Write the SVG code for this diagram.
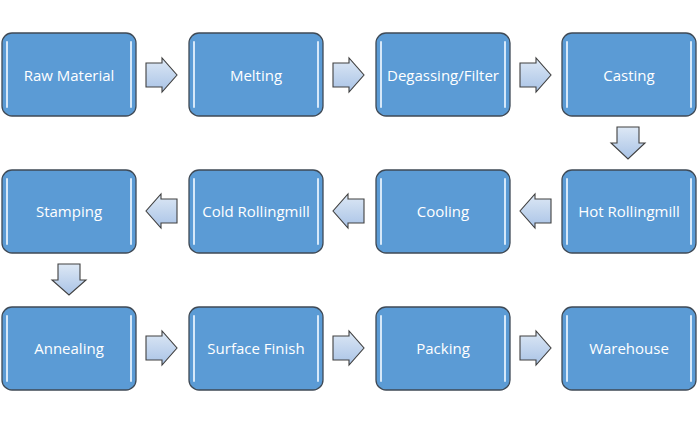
<svg xmlns="http://www.w3.org/2000/svg" width="698" height="424" viewBox="0 0 698 424">
<style>
.box{fill:#5b9bd5;stroke:#3f4a56;stroke-width:1.3}
.hl{stroke:#d6e8f9;stroke-width:2;stroke-linecap:round}
.lbl{fill:#ffffff;font-family:"Open Sans","Noto Sans",sans-serif;font-size:15px;text-anchor:middle;dominant-baseline:central}
.arr{fill:url(#ag);stroke:#404040;stroke-width:1.1;stroke-linejoin:miter}
</style>
<defs>
<linearGradient id="ag" x1="0" y1="0" x2="0" y2="1">
<stop offset="0" stop-color="#dde8f5"/>
<stop offset="1" stop-color="#a9c3e6"/>
</linearGradient>
</defs>
<rect width="698" height="424" fill="#ffffff"/>
<g id="connectors">
<path class="arr" d="M146,63 H162 V58 L177,75 L162,92 V87 H146 Z"/>
<path class="arr" d="M333,63 H349 V58 L364,75 L349,92 V87 H333 Z"/>
<path class="arr" d="M520,63 H536 V58 L551,75 L536,92 V87 H520 Z"/>
<path class="arr" d="M617,127 H639 V143 H645 L628,159 L611,143 H617 Z"/>
<path class="arr" d="M551,199 H535 V194 L520,211 L535,228 V223 H551 Z"/>
<path class="arr" d="M364,199 H348 V194 L333,211 L348,228 V223 H364 Z"/>
<path class="arr" d="M177,199 H161 V194 L146,211 L161,228 V223 H177 Z"/>
<path class="arr" d="M58,264 H80 V280 H86 L69,295 L52,280 H58 Z"/>
<path class="arr" d="M146,336 H162 V331 L177,348 L162,365 V360 H146 Z"/>
<path class="arr" d="M333,336 H349 V331 L364,348 L349,365 V360 H333 Z"/>
<path class="arr" d="M520,336 H536 V331 L551,348 L536,365 V360 H520 Z"/>
</g>
<g id="n1"><rect class="box" x="2" y="33" width="134" height="83" rx="10"/><line class="hl" x1="7" y1="42" x2="7" y2="107"/><line class="hl" x1="131" y1="42" x2="131" y2="107"/><text class="lbl" x="69" y="74.5">Raw Material</text></g>
<g id="n2"><rect class="box" x="189" y="33" width="134" height="83" rx="10"/><line class="hl" x1="194" y1="42" x2="194" y2="107"/><line class="hl" x1="318" y1="42" x2="318" y2="107"/><text class="lbl" x="256" y="74.5">Melting</text></g>
<g id="n3"><rect class="box" x="376" y="33" width="134" height="83" rx="10"/><line class="hl" x1="381" y1="42" x2="381" y2="107"/><line class="hl" x1="505" y1="42" x2="505" y2="107"/><text class="lbl" x="443" y="74.5">Degassing/Filter</text></g>
<g id="n4"><rect class="box" x="562" y="33" width="134" height="83" rx="10"/><line class="hl" x1="567" y1="42" x2="567" y2="107"/><line class="hl" x1="691" y1="42" x2="691" y2="107"/><text class="lbl" x="629" y="74.5">Casting</text></g>
<g id="n5"><rect class="box" x="562" y="170" width="134" height="83" rx="10"/><line class="hl" x1="567" y1="179" x2="567" y2="244"/><line class="hl" x1="691" y1="179" x2="691" y2="244"/><text class="lbl" x="629" y="211">Hot Rollingmill</text></g>
<g id="n6"><rect class="box" x="376" y="170" width="134" height="83" rx="10"/><line class="hl" x1="381" y1="179" x2="381" y2="244"/><line class="hl" x1="505" y1="179" x2="505" y2="244"/><text class="lbl" x="443" y="211">Cooling</text></g>
<g id="n7"><rect class="box" x="189" y="170" width="134" height="83" rx="10"/><line class="hl" x1="194" y1="179" x2="194" y2="244"/><line class="hl" x1="318" y1="179" x2="318" y2="244"/><text class="lbl" x="256" y="211">Cold Rollingmill</text></g>
<g id="n8"><rect class="box" x="2" y="170" width="134" height="83" rx="10"/><line class="hl" x1="7" y1="179" x2="7" y2="244"/><line class="hl" x1="131" y1="179" x2="131" y2="244"/><text class="lbl" x="69" y="211">Stamping</text></g>
<g id="n9"><rect class="box" x="2" y="307" width="134" height="83" rx="10"/><line class="hl" x1="7" y1="316" x2="7" y2="381"/><line class="hl" x1="131" y1="316" x2="131" y2="381"/><text class="lbl" x="69" y="348">Annealing</text></g>
<g id="n10"><rect class="box" x="189" y="307" width="134" height="83" rx="10"/><line class="hl" x1="194" y1="316" x2="194" y2="381"/><line class="hl" x1="318" y1="316" x2="318" y2="381"/><text class="lbl" x="256" y="348">Surface Finish</text></g>
<g id="n11"><rect class="box" x="376" y="307" width="134" height="83" rx="10"/><line class="hl" x1="381" y1="316" x2="381" y2="381"/><line class="hl" x1="505" y1="316" x2="505" y2="381"/><text class="lbl" x="443" y="348">Packing</text></g>
<g id="n12"><rect class="box" x="562" y="307" width="134" height="83" rx="10"/><line class="hl" x1="567" y1="316" x2="567" y2="381"/><line class="hl" x1="691" y1="316" x2="691" y2="381"/><text class="lbl" x="629" y="348">Warehouse</text></g>
</svg>
